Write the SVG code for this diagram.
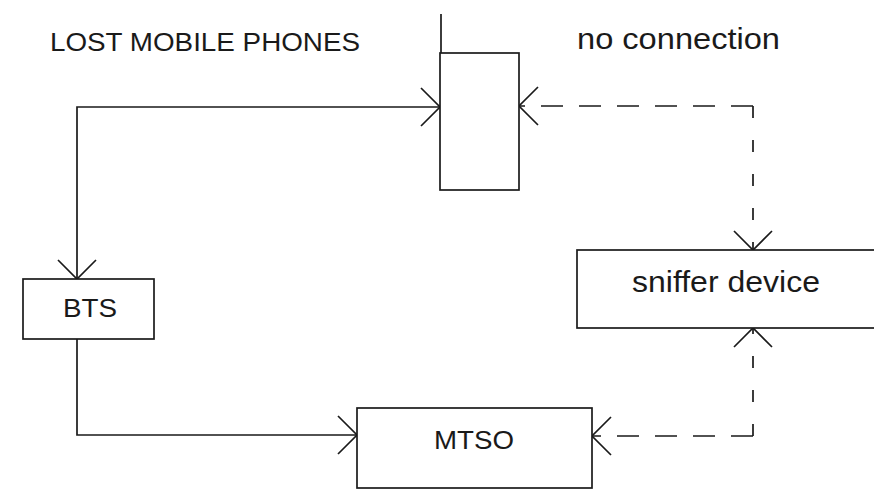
<svg xmlns="http://www.w3.org/2000/svg" width="874" height="493" viewBox="0 0 874 493">
<defs>
<style>
.box{fill:#fff;stroke:#1a1a1a;stroke-width:1.7}
.ln{fill:none;stroke:#1a1a1a;stroke-width:1.7}
.dh{fill:none;stroke:#1a1a1a;stroke-width:1.7;stroke-dasharray:22 16}
.dv{fill:none;stroke:#1a1a1a;stroke-width:1.7;stroke-dasharray:12 22}
.t{font-family:"Liberation Sans",Arial,sans-serif;fill:#1a1a1a}
</style>
<marker id="arr" markerUnits="userSpaceOnUse" markerWidth="44" markerHeight="44" refX="22" refY="22" viewBox="0 0 44 44" orient="auto-start-reverse" overflow="visible">
<path d="M3,3 L22,22 L3,41" fill="none" stroke="#1a1a1a" stroke-width="1.7"/>
</marker>
</defs>
<rect width="874" height="493" fill="#fff"/>
<text class="t" x="50" y="51" font-size="25" textLength="310" lengthAdjust="spacingAndGlyphs">LOST MOBILE PHONES</text>
<text class="t" x="577" y="49" font-size="30" textLength="203" lengthAdjust="spacingAndGlyphs">no connection</text>
<g id="connectors">
<path class="ln" d="M77,279 L77,107 L440,107" marker-start="url(#arr)" marker-end="url(#arr)"/>
<path class="ln" d="M77,339 L77,435 L357,435" marker-end="url(#arr)"/>
<path class="dh" d="M753,106 L519,106" marker-end="url(#arr)"/>
<path class="dv" d="M753,106 L753,250" marker-end="url(#arr)"/>
<path class="dh" d="M753,436 L592,436" marker-end="url(#arr)"/>
<path class="dv" d="M753,436 L753,328" marker-end="url(#arr)"/>
</g>
<g id="phone">
<line class="ln" x1="441" y1="14" x2="441" y2="53"/>
<rect class="box" x="440" y="53" width="79" height="137"/>
</g>
<g id="bts">
<rect class="box" x="23" y="279" width="131" height="60"/>
<text class="t" x="90" y="317" font-size="25" text-anchor="middle" textLength="54" lengthAdjust="spacingAndGlyphs">BTS</text>
</g>
<g id="sniffer">
<rect class="box" x="577" y="250" width="310" height="78"/>
<text class="t" x="632" y="292" font-size="30" textLength="188" lengthAdjust="spacingAndGlyphs">sniffer device</text>
</g>
<g id="mtso">
<rect class="box" x="357" y="408" width="235" height="80"/>
<text class="t" x="474" y="449" font-size="25" text-anchor="middle" textLength="80" lengthAdjust="spacingAndGlyphs">MTSO</text>
</g>
</svg>
